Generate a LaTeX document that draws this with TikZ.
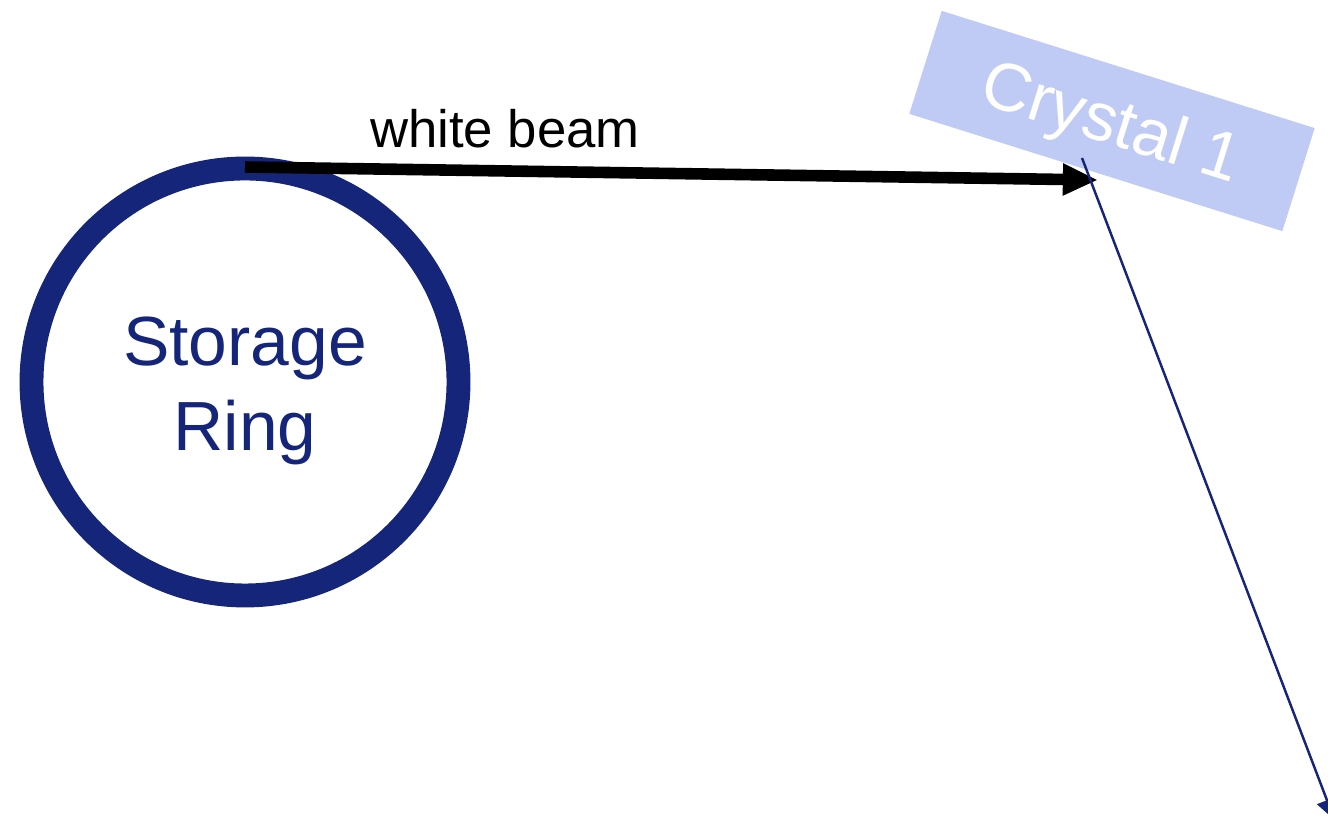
\documentclass[tikz,border=0pt]{standalone}
\usepackage{fontspec}
\setmainfont{Liberation Sans}
\usetikzlibrary{arrows.meta, positioning}
\definecolor{CNavy}{HTML}{15257A}
\definecolor{CCrystal}{HTML}{BFCBF4}

\begin{document}
\begin{tikzpicture}[
    ringlabel/.style={CNavy, align=center, font=\fontsize{19.8}{24}\selectfont},
    crystalbox/.style={fill=CCrystal, text=white, minimum width=3.91cm, minimum height=1.08cm, inner sep=0pt, text height=17pt, text depth=4pt, font=\fontsize{19.3}{23}\selectfont},
    beam/.style={line width=3.3pt, -{Triangle[length=10pt, width=8.5pt]}},
    reflected/.style={CNavy, line width=0.7pt, -{Triangle[length=6pt, width=6pt]}}]
    \useasboundingbox (0,0) rectangle (13.28,8.2);
    \clip (0,0) rectangle (13.28,8.2);

    % Storage ring
    \draw[CNavy, line width=6.8pt] (2.45, 4.38) circle (2.135);
    \node[ringlabel] (ring) at (2.45, 4.29) {Storage\\Ring};
    \coordinate (ring top) at (2.45, 6.53);

    % Crystal 1
    \node[crystalbox, rotate=-17.45] (crystal) at (11.12, 6.99) {Crystal 1};
    \coordinate (hit) at (10.98, 6.40);
    \coordinate (kick) at (10.82, 6.62);
    \coordinate (out) at (13.345, 0.0);

    % Beams
    \draw[beam] (ring top) -- (hit);
    \node[anchor=base, font=\fontsize{15}{18}\selectfont] (white) at (5.05, 6.72) {white beam};
    \draw[reflected] (kick) -- (out);
\end{tikzpicture}
\end{document}
